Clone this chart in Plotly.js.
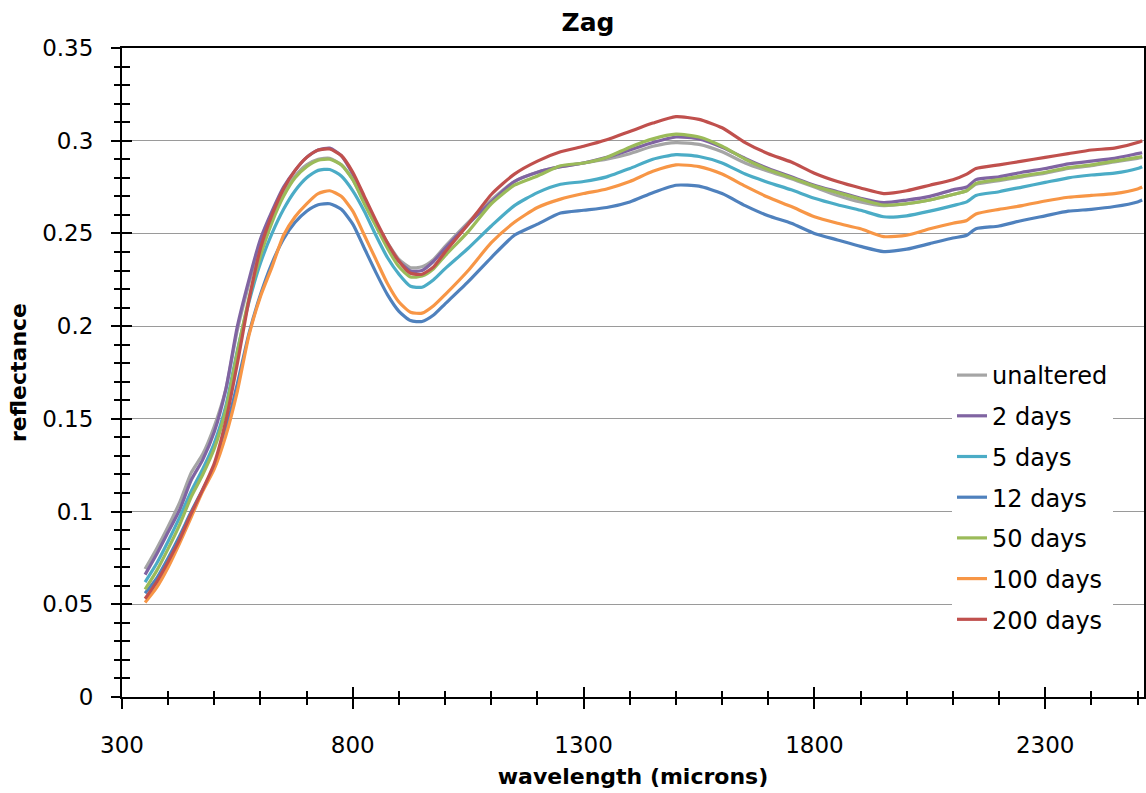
<!DOCTYPE html>
<html>
<head>
<meta charset="utf-8">
<script src="https://cdn.plot.ly/plotly-3.0.1.min.js"></script>
<style>html,body{margin:0;padding:0;background:#fff;}#chart{width:1146px;height:793px;}</style>
</head>
<body>
<div id="chart"></div>
<script>
// wavelength samples (x axis)
const wavelength = [350,375,400,425,450,475,500,525,550,575,600,625,650,675,700,725,750,775,800,825,850,875,900,925,950,975,1000,1050,1100,1150,1200,1250,1300,1350,1400,1450,1500,1550,1600,1650,1700,1750,1800,1850,1900,1950,2000,2050,2100,2130,2150,2200,2250,2300,2350,2400,2450,2500,2510];

const seriesNames = ["unaltered","2 days","5 days","12 days","50 days","100 days","200 days"];

const unaltered = [0.069,0.080,0.092,0.105,0.121,0.131,0.146,0.166,0.198,0.223,0.245,0.260,0.272,0.281,0.287,0.290,0.2905,0.287,0.279,0.267,0.256,0.245,0.236,0.2315,0.232,0.236,0.243,0.256,0.268,0.278,0.283,0.286,0.288,0.290,0.293,0.297,0.299,0.298,0.294,0.288,0.2835,0.2795,0.275,0.2705,0.267,0.265,0.266,0.268,0.271,0.273,0.2765,0.2785,0.2805,0.2825,0.285,0.2865,0.2885,0.2905,0.291];

const days2 = [0.066,0.077,0.089,0.101,0.117,0.128,0.143,0.166,0.200,0.225,0.247,0.262,0.275,0.284,0.291,0.295,0.296,0.292,0.282,0.269,0.256,0.244,0.235,0.2298,0.230,0.235,0.242,0.255,0.267,0.278,0.283,0.286,0.288,0.291,0.295,0.299,0.302,0.301,0.2965,0.2905,0.285,0.2805,0.276,0.2725,0.269,0.2666,0.268,0.270,0.2735,0.275,0.279,0.2805,0.283,0.285,0.2875,0.289,0.2905,0.293,0.2935];

const days5 = [0.062,0.072,0.084,0.097,0.111,0.123,0.137,0.157,0.187,0.213,0.234,0.250,0.263,0.273,0.280,0.284,0.2845,0.281,0.273,0.262,0.249,0.237,0.228,0.2215,0.221,0.225,0.231,0.242,0.254,0.265,0.272,0.2765,0.278,0.2805,0.285,0.290,0.2925,0.2915,0.288,0.282,0.2775,0.2735,0.269,0.2655,0.2625,0.259,0.2595,0.262,0.265,0.267,0.2705,0.2725,0.275,0.2775,0.280,0.2815,0.2825,0.285,0.286];

const days12 = [0.056,0.064,0.075,0.087,0.100,0.112,0.124,0.144,0.169,0.196,0.217,0.234,0.247,0.256,0.262,0.2655,0.266,0.263,0.255,0.242,0.229,0.217,0.208,0.203,0.2025,0.206,0.212,0.224,0.237,0.249,0.255,0.261,0.2625,0.264,0.267,0.272,0.276,0.2755,0.2715,0.265,0.2595,0.2555,0.250,0.2465,0.243,0.2402,0.2415,0.2445,0.2475,0.249,0.2525,0.254,0.257,0.2595,0.262,0.263,0.2645,0.267,0.268];

const days50 = [0.058,0.068,0.080,0.093,0.108,0.120,0.134,0.155,0.186,0.215,0.238,0.256,0.270,0.280,0.286,0.2895,0.290,0.287,0.279,0.266,0.254,0.242,0.232,0.2265,0.227,0.231,0.238,0.251,0.266,0.276,0.281,0.2865,0.288,0.291,0.2965,0.301,0.3035,0.302,0.297,0.290,0.2845,0.280,0.2755,0.272,0.2685,0.2653,0.266,0.268,0.271,0.273,0.277,0.279,0.281,0.283,0.2855,0.287,0.289,0.291,0.2915];

const days100 = [0.051,0.059,0.070,0.083,0.097,0.111,0.123,0.141,0.165,0.195,0.216,0.232,0.249,0.259,0.266,0.2715,0.273,0.270,0.262,0.249,0.236,0.223,0.213,0.2075,0.207,0.211,0.217,0.230,0.245,0.256,0.264,0.2685,0.2715,0.274,0.278,0.2835,0.287,0.286,0.282,0.2755,0.2695,0.2645,0.259,0.2555,0.2525,0.2483,0.249,0.2525,0.2555,0.257,0.2605,0.263,0.265,0.2675,0.2695,0.2705,0.2715,0.274,0.275];

const days200 = [0.053,0.062,0.073,0.085,0.099,0.112,0.126,0.149,0.180,0.214,0.242,0.260,0.274,0.284,0.291,0.295,0.2955,0.292,0.283,0.270,0.257,0.245,0.235,0.2285,0.228,0.232,0.240,0.255,0.271,0.282,0.289,0.294,0.297,0.3005,0.305,0.3095,0.313,0.3115,0.307,0.299,0.293,0.2885,0.2825,0.278,0.2745,0.2715,0.273,0.276,0.279,0.282,0.285,0.287,0.289,0.291,0.293,0.295,0.296,0.299,0.300];

const seriesValues = [unaltered, days2, days5, days12, days50, days100, days200];
const seriesColors = ["#A5A5A5","#8064A2","#4BACC6","#4F81BD","#9BBB59","#F79646","#C0504D"];

const FONT = "DejaVu Sans";

const traces = seriesNames.map((name, i) => ({
  type: "scatter",
  mode: "lines",
  name: name,
  x: wavelength,
  y: seriesValues[i],
  legendgroup: "g" + i,
  line: {color: seriesColors[i], width: 3.2, shape: "spline", smoothing: 0.6},
  hoverinfo: "x+y+name"
}));

// helper trace so the overlaid axes (inside tick marks) are drawn
traces.push({type: "scatter", mode: "lines", x: [], y: [], xaxis: "x2", yaxis: "y2", showlegend: false, hoverinfo: "skip"});

const xRange = [300, 2514];
const yRange = [0, 0.35];

const layout = {
  width: 1146,
  height: 793,
  paper_bgcolor: "#ffffff",
  plot_bgcolor: "#ffffff",
  margin: {l: 122, r: 2, t: 48, b: 96},
  showlegend: true,
  title: {
    text: "<b>Zag</b>",
    font: {family: FONT, size: 25, color: "#000"},
    x: 588 / 1146, xref: "container", xanchor: "center",
    y: 1 - 22 / 793, yref: "container", yanchor: "middle"
  },
  xaxis: {
    range: xRange,
    tick0: 300, dtick: 500, tickmode: "linear",
    ticks: "outside", ticklen: 10, tickwidth: 1.5, tickcolor: "#000",
    minor: {dtick: 100, tick0: 300, ticks: "outside", ticklen: 6, tickwidth: 1.5, tickcolor: "#000", showgrid: false},
    showgrid: false, zeroline: false,
    showline: true, linecolor: "#000", linewidth: 2, mirror: true,
    tickfont: {family: FONT, size: 23, color: "#000"},
    ticklabelstandoff: 16,
    title: {text: "<b>wavelength (microns)</b>", font: {family: FONT, size: 22, color: "#000"}, standoff: 12}
  },
  yaxis: {
    range: yRange,
    tick0: 0, dtick: 0.05, tickmode: "linear",
    ticks: "outside", ticklen: 9, tickwidth: 1.5, tickcolor: "#000",
    minor: {dtick: 0.01, ticks: "outside", ticklen: 6, tickwidth: 1.5, tickcolor: "#000", showgrid: false},
    showgrid: true, gridcolor: "#9a9a9a", gridwidth: 1,
    zeroline: false,
    showline: true, linecolor: "#000", linewidth: 2, mirror: true,
    tickfont: {family: FONT, size: 23, color: "#000"},
    ticklabelstandoff: 13,
    title: {text: "<b>reflectance</b>", font: {family: FONT, size: 22, color: "#000"}, standoff: 9}
  },
  xaxis2: {
    overlaying: "x", anchor: "y", range: xRange,
    tick0: 300, dtick: 500, tickmode: "linear",
    ticks: "inside", ticklen: 10, tickwidth: 1.5, tickcolor: "#000",
    minor: {dtick: 100, tick0: 300, ticks: "inside", ticklen: 6, tickwidth: 1.5, tickcolor: "#000", showgrid: false},
    showticklabels: false, showgrid: false, zeroline: false, showline: false, side: "bottom"
  },
  yaxis2: {
    overlaying: "y", anchor: "x", range: yRange,
    tick0: 0, dtick: 0.05, tickmode: "linear",
    ticks: "inside", ticklen: 10, tickwidth: 1.5, tickcolor: "#000",
    minor: {dtick: 0.01, ticks: "inside", ticklen: 8, tickwidth: 1.5, tickcolor: "#000", showgrid: false},
    showticklabels: false, showgrid: false, zeroline: false, showline: false, side: "left"
  },
  legend: {
    x: (952 - 122) / 1022, xanchor: "left",
    y: (697 - 353) / 649, yanchor: "top",
    bgcolor: "#ffffff", borderwidth: 0,
    font: {family: FONT, size: 24, color: "#000"},
    traceorder: "grouped", tracegroupgap: 6.5,
    itemwidth: 30
  },
  hovermode: "closest"
};

Plotly.newPlot("chart", traces, layout, {displayModeBar: false, staticPlot: false});
</script>
</body>
</html>
